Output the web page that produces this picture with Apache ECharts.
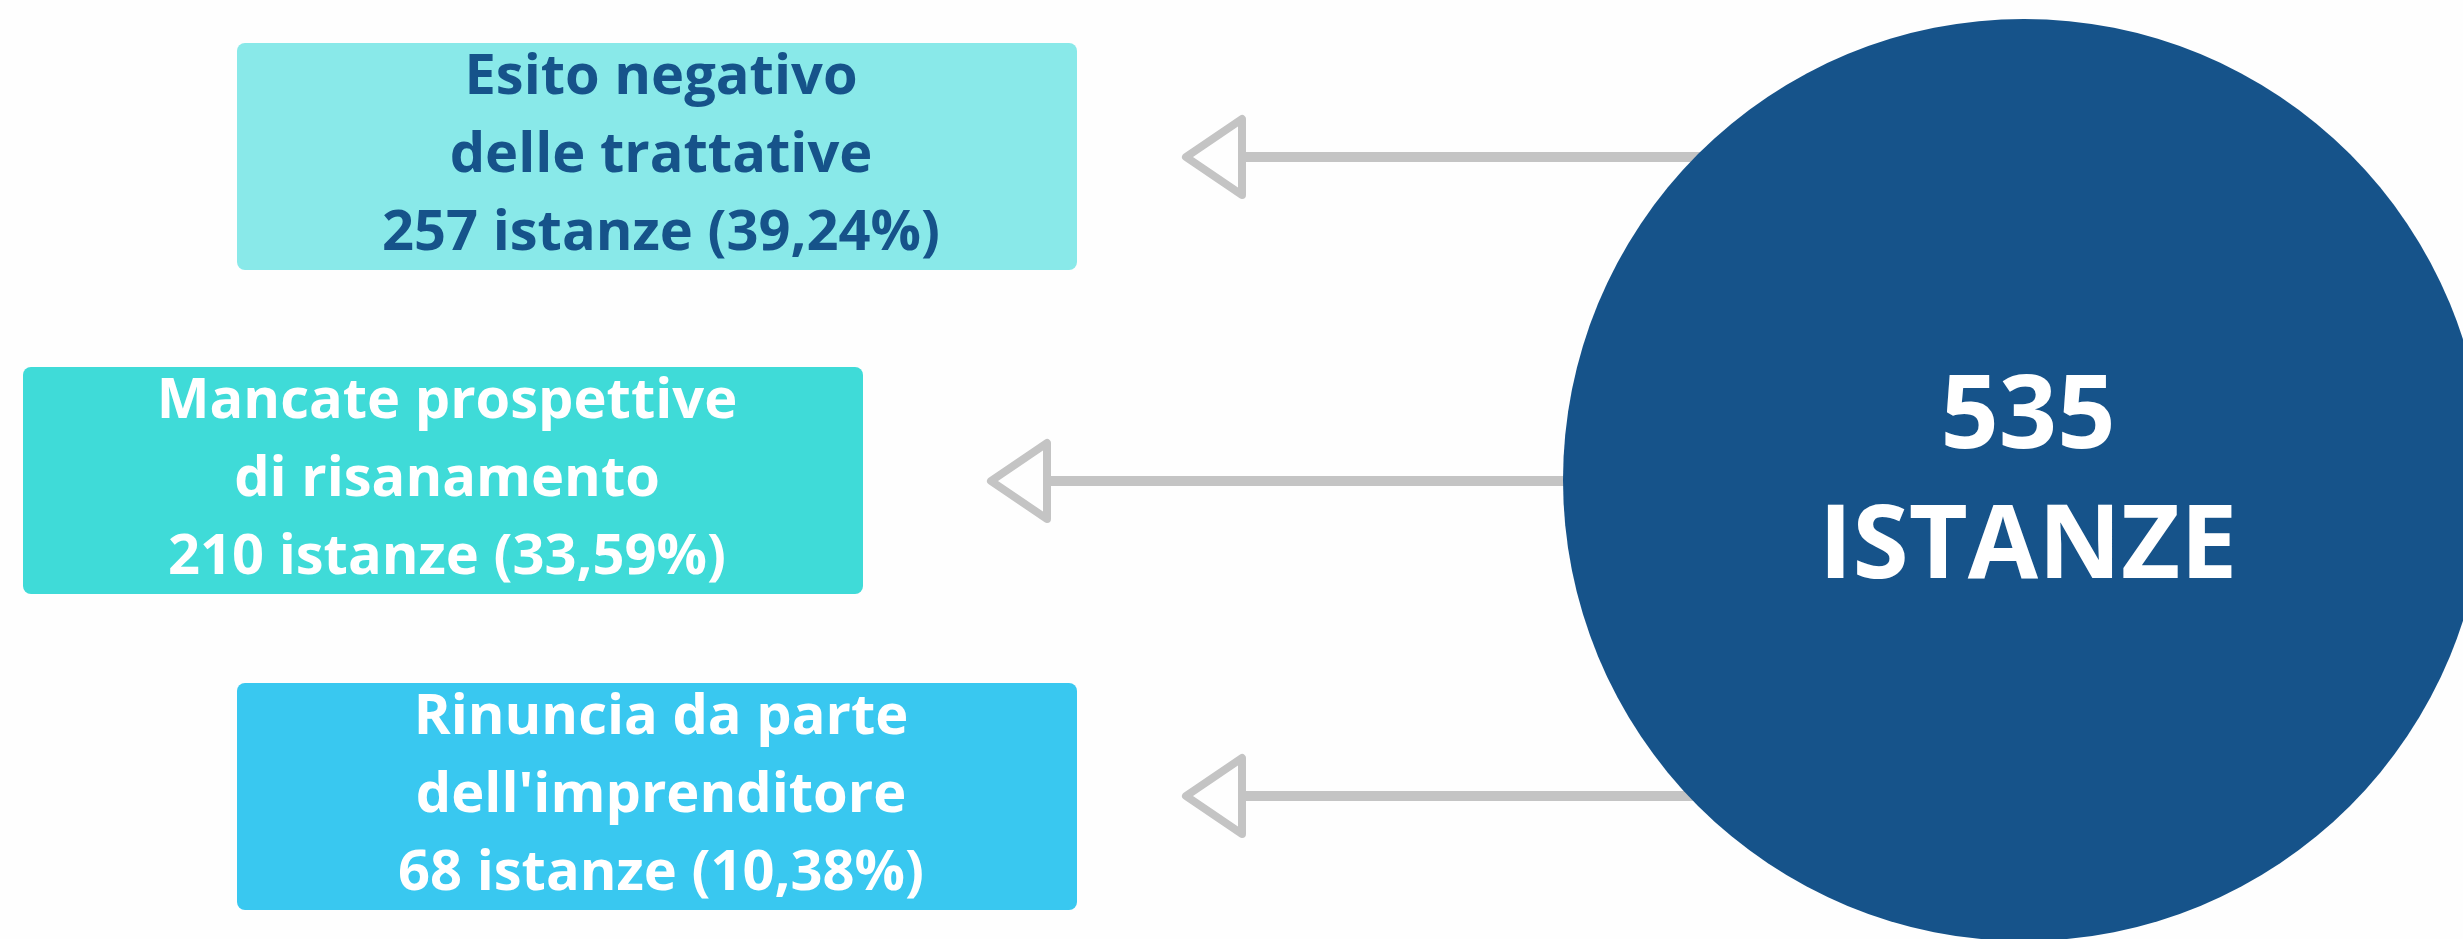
<!DOCTYPE html>
<html>
<head>
<meta charset="utf-8">
<script src="https://cdn.jsdelivr.net/npm/echarts@6/dist/echarts.min.js"></script>
<style>
  html, body { margin: 0; padding: 0; background: #fefefe; }
  #chart { width: 2463px; height: 939px; }
</style>
</head>
<body>
<div id="chart"></div>
<script>
// dati
const causes = ['Esito negativo\ndelle trattative', 'Mancate prospettive\ndi risanamento', "Rinuncia da parte\ndell'imprenditore"]
const counts = [257, 210, 68]
const percents = ['39,24', '33,59', '10,38']
const total = 535
const totalLabel = 'ISTANZE'

// box: colore, colore testo, posizione
const boxFill = ['#89e9e9', '#3fdbd8', '#39c8f0']
const boxText = ['#16538a', '#ffffff', '#ffffff']
const boxLeft = [237, 23, 237]
const boxTop = [43, 367, 683]
const boxW = 840
const boxH = 227

const circle = { cx: 2024, cy: 480, r: 461 }
const arrowY = [157, 481, 796]
const arrowTip = [1186, 991, 1186]

const chart = echarts.init(document.getElementById('chart'))

const elements = []

// frecce (sotto il cerchio)
arrowY.forEach(function (y, i) {
  const tip = arrowTip[i]
  const base = tip + 56
  elements.push({
    type: 'line',
    shape: { x1: base, y1: y, x2: circle.cx, y2: y },
    style: { stroke: '#c4c4c4', lineWidth: 10 },
    z: 1
  })
  elements.push({
    type: 'polygon',
    shape: { points: [[tip, y], [base, y - 38], [base, y + 38]] },
    style: { fill: '#fefefe', stroke: '#c4c4c4', lineWidth: 8, lineJoin: 'round' },
    z: 2
  })
})

// cerchio centrale
elements.push({
  type: 'circle',
  shape: circle,
  style: { fill: '#16538a' },
  z: 3
})
elements.push({
  type: 'text',
  x: circle.cx + 4,
  y: circle.cy + 4,
  style: {
    text: total + '\n' + totalLabel,
    fill: '#ffffff',
    font: 'bold 102px "Open Sans"',
    lineHeight: 130,
    align: 'center',
    verticalAlign: 'middle'
  },
  z: 4
})

// box con le cause
causes.forEach(function (c, i) {
  elements.push({
    type: 'rect',
    shape: { x: boxLeft[i], y: boxTop[i], width: boxW, height: boxH, r: 8 },
    style: { fill: boxFill[i] },
    z: 3
  })
  elements.push({
    type: 'text',
    x: boxLeft[i] + boxW / 2 + 4,
    y: boxTop[i] + boxH / 2,
    style: {
      text: c + '\n' + counts[i] + ' istanze (' + percents[i] + '%)',
      fill: boxText[i],
      font: 'bold 56px "Open Sans"',
      lineHeight: 78,
      align: 'center',
      verticalAlign: 'middle'
    },
    z: 4
  })
})

chart.setOption({
  backgroundColor: '#fefefe',
  graphic: { elements: elements }
})
</script>
</body>
</html>
